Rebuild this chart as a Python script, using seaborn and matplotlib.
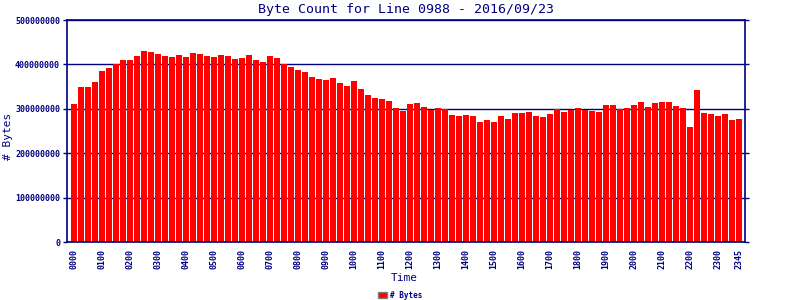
import matplotlib
matplotlib.use("Agg")
import matplotlib.pyplot as plt
import seaborn as sns
import pandas as pd

times = [f"{h:02d}{m:02d}" for h in range(24) for m in (0, 15, 30, 45)]
bytes_m = [311, 349, 349, 360, 385, 392, 401, 410, 410, 419, 430, 428, 423, 419, 417, 421,
           417, 426, 423, 419, 417, 421, 419, 412, 414, 421, 410, 405, 419, 414, 401, 394,
           387, 383, 372,
           367, 365, 369, 358, 351, 363, 345, 331, 324, 322, 318, 302, 295, 311, 313, 304,
           297, 302, 300, 286, 284, 286, 284, 270, 275, 270, 284, 277, 291, 291, 293, 284,
           282, 288, 300, 293, 297, 302, 297, 295, 293, 309, 309, 300, 302, 309, 315, 304,
           313, 315, 315, 306, 302, 259, 342, 291, 288, 284, 288, 275, 277]
bytes_vals = [v * 1e6 for v in bytes_m]
tick_labels = [f"{h:02d}00" for h in range(24)] + ["2345"]
y_ticks = [0, 100000000, 200000000, 300000000, 400000000, 500000000]

navy = "#000080"
sns.set_theme(style="white")
plt.rcParams["font.family"] = ["DejaVu Sans Mono"]

df = pd.DataFrame({"Time": times, "# Bytes": bytes_vals})

fig = plt.figure(figsize=(8, 3), dpi=100)
ax = fig.add_axes([67 / 800, 1 - 242 / 300, (745 - 67) / 800, (242 - 20) / 300])
ax.set_axisbelow(True)
ax.yaxis.grid(True, color=navy, linewidth=1.0)
ax.xaxis.grid(False)
sns.barplot(data=df, x="Time", y="# Bytes", color="#ff0000", width=0.86,
            saturation=1, ax=ax, label="# Bytes")
for p in ax.patches:
    p.set_edgecolor("none")

ax.set_xlim(-1.0, 95.9)
ax.set_ylim(0, 500000000)
ax.set_yticks(y_ticks)
ax.set_yticklabels([str(v) for v in y_ticks])
pos = [times.index(t) for t in tick_labels]
ax.set_xticks(pos)
ax.set_xticklabels(tick_labels, rotation=90)
ax.tick_params(axis="x", colors=navy, labelsize=6, length=0, pad=5)
ax.tick_params(axis="y", colors=navy, labelsize=6, length=3, direction="out",
               left=True, right=True, width=1, pad=2)
for lab in ax.get_xticklabels() + ax.get_yticklabels():
    lab.set_fontweight("bold")
for s in ax.spines.values():
    s.set_color(navy)
    s.set_linewidth(1.2)

ax.set_title("Byte Count for Line 0988 - 2016/09/23", color=navy, fontsize=9.5, pad=5)
ax.set_xlabel("")
ax.set_ylabel("")
fig.text(404 / 800, 1 - 278 / 300, "Time", color=navy, fontsize=8, ha="center", va="center")
fig.text(8 / 800, 1 - 136 / 300, "# Bytes", color=navy, fontsize=8, ha="center",
         va="center", rotation=90)

if ax.get_legend() is not None:
    ax.get_legend().remove()
handles, labels = ax.get_legend_handles_labels()
leg = fig.legend(handles, labels, loc="center", bbox_to_anchor=(400 / 800, 1 - 295 / 300),
                 frameon=False, fontsize=5.5, handlelength=1.2, handleheight=0.8,
                 handletextpad=0.3, borderpad=0, borderaxespad=0)
for h in leg.legend_handles:
    h.set_edgecolor("#808080")
    h.set_linewidth(1)
for t in leg.get_texts():
    t.set_color(navy)
    t.set_fontweight("bold")

fig.savefig("out.png", dpi=100)
